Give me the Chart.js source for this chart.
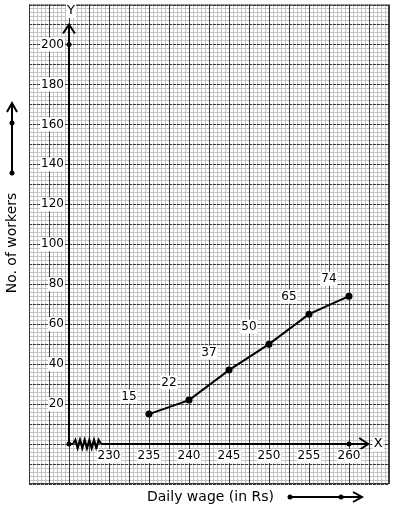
<!DOCTYPE html>
<html>
<head>
<meta charset="utf-8">
<script src="https://cdn.jsdelivr.net/npm/chart.js@4/dist/chart.umd.min.js"></script>
<style>
  html, body { margin: 0; padding: 0; background: #fff; }
  #wrap { width: 394px; height: 510px; position: relative; }
</style>
</head>
<body>
<div id="wrap"><canvas id="Graphique"></canvas></div>
<script>
// données du graphique
var wages = [235, 240, 245, 250, 255, 260];
var workers = [15, 22, 37, 50, 65, 74];
var xTicks = [230, 235, 240, 245, 250, 255, 260];
var yTicks = [20, 40, 60, 80, 100, 120, 140, 160, 180, 200];

var FONT = '"DejaVu Sans", sans-serif';

// texte avec fond blanc
function boxText(ctx, txt, x, y, align) {
    ctx.textAlign = align || 'center';
    ctx.textBaseline = 'middle';
    var w = ctx.measureText(txt).width;
    var left = x - w / 2;
    if (align === 'right') left = x - w;
    ctx.fillStyle = '#fff';
    ctx.fillRect(left - 1, y - 7, w + 2, 14);
    ctx.fillStyle = '#000';
    ctx.fillText(txt, x, y);
}

function dot(ctx, x, y) {
    ctx.beginPath();
    ctx.arc(x, y, 2.5, 0, Math.PI * 2);
    ctx.fillStyle = '#000';
    ctx.fill();
}

// papier millimétré
var graphPaper = {
    id: 'graphPaper',
    beforeDatasetsDraw: function (chart) {
        var ctx = chart.ctx, sx = chart.scales.x, sy = chart.scales.y, a = chart.chartArea;
        ctx.save();
        ctx.fillStyle = '#fff';
        ctx.fillRect(a.left, a.top, a.right - a.left, a.bottom - a.top);
        ctx.lineWidth = 1;
        ctx.strokeStyle = '#c4c4c4';
        ctx.beginPath();
        for (var i = 0; i <= 90; i++) {
            var px = Math.round(sx.getPixelForValue(220 + i * 0.5)) + 0.5;
            ctx.moveTo(px, a.top); ctx.lineTo(px, a.bottom);
        }
        for (var j = 0; j <= 120; j++) {
            var py = Math.round(sy.getPixelForValue(-20 + j * 2)) + 0.5;
            ctx.moveTo(a.left, py); ctx.lineTo(a.right, py);
        }
        ctx.stroke();
        // lignes principales verticales
        ctx.strokeStyle = '#3a3a3a';
        ctx.beginPath();
        for (var k = 0; k <= 18; k++) {
            var vx = Math.round(sx.getPixelForValue(220 + k * 2.5)) + 0.5;
            ctx.moveTo(vx, a.top); ctx.lineTo(vx, a.bottom);
        }
        ctx.stroke();
        // lignes principales horizontales (pointillés)
        ctx.setLineDash([3, 1]);
        ctx.beginPath();
        for (var m = 0; m <= 24; m++) {
            var hy = Math.round(sy.getPixelForValue(-20 + m * 10)) + 0.5;
            ctx.moveTo(a.left, hy); ctx.lineTo(a.right, hy);
        }
        ctx.stroke();
        ctx.setLineDash([]);
        ctx.strokeRect(a.left + 0.5, a.top + 0.5, a.right - a.left - 1, a.bottom - a.top - 1);
        ctx.restore();
    },
    afterDatasetsDraw: function (chart) {
        var ctx = chart.ctx, sx = chart.scales.x, sy = chart.scales.y;
        var ox = sx.getPixelForValue(225), oy = sy.getPixelForValue(0);
        ctx.save();
        ctx.strokeStyle = '#000';
        ctx.lineWidth = 2;
        // axe Y
        var yTop = sy.getPixelForValue(210);
        ctx.beginPath();
        ctx.moveTo(ox, oy); ctx.lineTo(ox, yTop);
        ctx.moveTo(ox - 6, yTop + 9); ctx.lineTo(ox, yTop); ctx.lineTo(ox + 6, yTop + 9);
        ctx.stroke();
        // axe X avec coupure
        var zs = sx.getPixelForValue(225.5), ze = sx.getPixelForValue(229);
        var xEnd = sx.getPixelForValue(262.4);
        ctx.beginPath();
        ctx.moveTo(ox, oy); ctx.lineTo(zs, oy);
        ctx.moveTo(ze, oy); ctx.lineTo(xEnd, oy);
        ctx.moveTo(xEnd - 9, oy - 6); ctx.lineTo(xEnd, oy); ctx.lineTo(xEnd - 9, oy + 6);
        ctx.stroke();
        ctx.lineWidth = 2.2;
        ctx.beginPath();
        ctx.moveTo(zs, oy);
        var n = 12;
        for (var i = 1; i <= n; i++) {
            var zx = zs + (ze - zs) * i / n;
            ctx.lineTo(zx, i === n ? oy : oy + (i % 2 ? -4 : 4));
        }
        ctx.stroke();
        dot(ctx, ox, oy);
        dot(ctx, ox, sy.getPixelForValue(200));
        dot(ctx, sx.getPixelForValue(260), oy);

        ctx.font = '12px ' + FONT;
        yTicks.forEach(function (v) {
            boxText(ctx, String(v), ox - 5, sy.getPixelForValue(v), 'right');
        });
        xTicks.forEach(function (v) {
            boxText(ctx, String(v), sx.getPixelForValue(v), sy.getPixelForValue(-6), 'center');
        });
        ctx.font = '13px ' + FONT;
        boxText(ctx, 'Y', ox + 2, 11, 'center');
        boxText(ctx, 'X', xEnd + 10, oy, 'center');

        // étiquettes des points
        ctx.font = '12px ' + FONT;
        var meta = chart.getDatasetMeta(0);
        meta.data.forEach(function (pt, idx) {
            boxText(ctx, String(workers[idx]), pt.x - 20, pt.y - 17.5, 'center');
        });
        ctx.restore();
    },
    afterDraw: function (chart) {
        var ctx = chart.ctx;
        ctx.save();
        ctx.fillStyle = '#000';
        ctx.strokeStyle = '#000';
        ctx.font = '14px ' + FONT;
        // titre axe Y
        ctx.save();
        ctx.translate(12, 243);
        ctx.rotate(-Math.PI / 2);
        ctx.textAlign = 'center';
        ctx.textBaseline = 'middle';
        ctx.fillText('No. of workers', 0, 0);
        ctx.restore();
        ctx.lineWidth = 2;
        ctx.beginPath();
        ctx.moveTo(12, 173); ctx.lineTo(12, 104);
        ctx.moveTo(7, 112); ctx.lineTo(12, 103); ctx.lineTo(17, 112);
        ctx.stroke();
        dot(ctx, 12, 123);
        dot(ctx, 12, 173);
        // titre axe X
        ctx.textAlign = 'left';
        ctx.textBaseline = 'middle';
        ctx.fillText('Daily wage (in Rs)', 147, 497);
        ctx.beginPath();
        ctx.moveTo(290, 497); ctx.lineTo(361, 497);
        ctx.moveTo(353, 492); ctx.lineTo(362, 497); ctx.lineTo(353, 502);
        ctx.stroke();
        dot(ctx, 290, 497);
        dot(ctx, 341, 497);
        ctx.restore();
    }
};

var chartObj = new Chart(document.getElementById('Graphique').getContext('2d'), {
    type: 'line',
    data: {
        datasets: [{
            data: wages.map(function (w, i) { return { x: w, y: workers[i] }; }),
            borderColor: '#000',
            backgroundColor: '#000',
            borderWidth: 2,
            pointRadius: 2.5,
            pointHoverRadius: 2.5,
            tension: 0
        }]
    },
    options: {
        responsive: true,
        maintainAspectRatio: false,
        animation: false,
        events: [],
        layout: { padding: { left: 29, right: 5, top: 4, bottom: 26 } },
        plugins: { legend: { display: false }, tooltip: { enabled: false }, title: { display: false } },
        scales: {
            x: { type: 'linear', min: 220, max: 265, display: false },
            y: { type: 'linear', min: -20, max: 220, display: false }
        }
    },
    plugins: [graphPaper]
});
</script>
</body>
</html>
